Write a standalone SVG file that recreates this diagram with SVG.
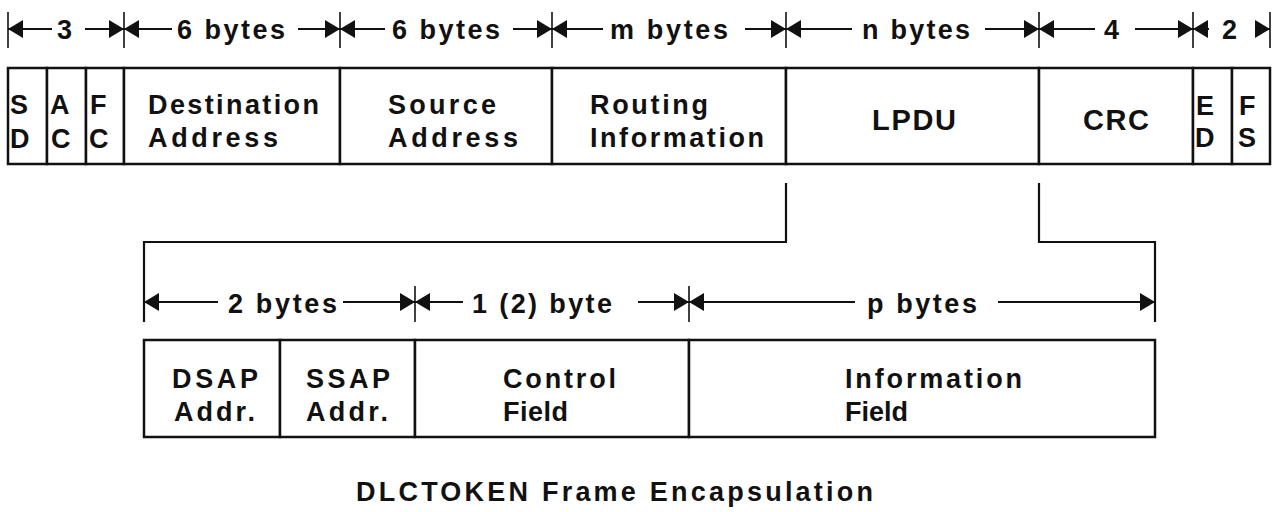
<svg xmlns="http://www.w3.org/2000/svg" width="1276" height="512" viewBox="0 0 1276 512">
<style>
.t{font-family:"Liberation Sans",Arial,Helvetica,sans-serif;font-weight:bold;font-size:27px;fill:#111}
.big{font-size:29px}
.cell{fill:#fff;stroke:#111;stroke-width:2.5}
.dim{stroke:#111;stroke-width:2;fill:none}
.tick{stroke:#111;stroke-width:1.6}
.conn{stroke:#111;stroke-width:2.2;fill:none}
</style>
<defs>
<marker id="ah" viewBox="0 0 15 18" refX="15" refY="9" markerWidth="15" markerHeight="18" markerUnits="userSpaceOnUse" orient="auto">
<path d="M0,0 L15,9 L0,18 Z" fill="#111"/>
</marker>
</defs>
<rect width="1276" height="512" fill="#fff"/>

<g id="top-dimensions">
<g class="tick">
<line x1="8" y1="12" x2="8" y2="48"/><line x1="124" y1="12" x2="124" y2="48"/><line x1="340" y1="12" x2="340" y2="48"/><line x1="552" y1="12" x2="552" y2="48"/><line x1="786" y1="12" x2="786" y2="48"/><line x1="1039" y1="12" x2="1039" y2="48"/><line x1="1193" y1="12" x2="1193" y2="48"/><line x1="1270" y1="12" x2="1270" y2="48"/>
</g>
<g class="dim" marker-end="url(#ah)">
<line x1="52" y1="29" x2="8" y2="29"/><line x1="85" y1="29" x2="124" y2="29"/>
<line x1="172" y1="29" x2="124" y2="29"/><line x1="298" y1="29" x2="340" y2="29"/>
<line x1="385" y1="29" x2="340" y2="29"/><line x1="513" y1="29" x2="552" y2="29"/>
<line x1="603" y1="29" x2="552" y2="29"/><line x1="745" y1="29" x2="786" y2="29"/>
<line x1="852" y1="29" x2="786" y2="29"/><line x1="985" y1="29" x2="1039" y2="29"/>
<line x1="1095" y1="29" x2="1039" y2="29"/><line x1="1135" y1="29" x2="1193" y2="29"/>
<line x1="1209" y1="29" x2="1193" y2="29"/><line x1="1255" y1="29" x2="1270" y2="29"/>
</g>
<text class="t" x="57" y="39">3</text>
<text class="t" x="177" y="39" textLength="108" lengthAdjust="spacing">6 bytes</text>
<text class="t" x="392" y="39" textLength="108" lengthAdjust="spacing">6 bytes</text>
<text class="t" x="610" y="39" textLength="118" lengthAdjust="spacing">m bytes</text>
<text class="t" x="862" y="39" textLength="108" lengthAdjust="spacing">n bytes</text>
<text class="t" x="1104" y="39">4</text>
<text class="t" x="1222" y="39">2</text>
</g>

<g id="sd"><rect class="cell" x="8" y="68" width="39" height="96"/><text class="t" x="10" y="114">S</text><text class="t" x="10" y="148">D</text></g>
<g id="ac"><rect class="cell" x="47" y="68" width="39" height="96"/><text class="t" x="50" y="114">A</text><text class="t" x="51" y="148">C</text></g>
<g id="fc"><rect class="cell" x="86" y="68" width="38" height="96"/><text class="t" x="90" y="114">F</text><text class="t" x="89" y="148">C</text></g>
<g id="dest"><rect class="cell" x="124" y="68" width="216" height="96"/><text class="t" x="148" y="114" textLength="171" lengthAdjust="spacing">Destination</text><text class="t" x="148" y="147" textLength="130" lengthAdjust="spacing">Address</text></g>
<g id="source"><rect class="cell" x="340" y="68" width="212" height="96"/><text class="t" x="388" y="114" textLength="108" lengthAdjust="spacing">Source</text><text class="t" x="388" y="147" textLength="130" lengthAdjust="spacing">Address</text></g>
<g id="routing"><rect class="cell" x="552" y="68" width="234" height="96"/><text class="t" x="590" y="114" textLength="118" lengthAdjust="spacing">Routing</text><text class="t" x="590" y="147" textLength="174" lengthAdjust="spacing">Information</text></g>
<g id="lpdu"><rect class="cell" x="786" y="68" width="253" height="96"/><text class="t big" x="872" y="130" textLength="84" lengthAdjust="spacing">LPDU</text></g>
<g id="crc"><rect class="cell" x="1039" y="68" width="154" height="96"/><text class="t big" x="1083" y="130" textLength="66" lengthAdjust="spacing">CRC</text></g>
<g id="ed"><rect class="cell" x="1193" y="68" width="39" height="96"/><text class="t" x="1196" y="115">E</text><text class="t" x="1195" y="147">D</text></g>
<g id="fs"><rect class="cell" x="1232" y="68" width="38" height="96"/><text class="t" x="1239" y="115">F</text><text class="t" x="1238" y="147">S</text></g>

<g id="connectors">
<path class="conn" d="M786,183 V242 H144 V322"/>
<path class="conn" d="M1039,183 V242 H1155 V322"/>
</g>

<g id="bottom-dimensions">
<g class="tick"><line x1="415" y1="286" x2="415" y2="322"/><line x1="689" y1="286" x2="689" y2="322"/></g>
<g class="dim" marker-end="url(#ah)">
<line x1="218" y1="302" x2="144" y2="302"/><line x1="343" y1="302" x2="415" y2="302"/>
<line x1="463" y1="302" x2="415" y2="302"/><line x1="638" y1="302" x2="689" y2="302"/>
<line x1="855" y1="302" x2="689" y2="302"/><line x1="998" y1="302" x2="1155" y2="302"/>
</g>
<text class="t" x="228" y="313" textLength="109" lengthAdjust="spacing">2 bytes</text>
<text class="t" x="472" y="313" textLength="140" lengthAdjust="spacing">1 (2) byte</text>
<text class="t" x="867" y="313" textLength="110" lengthAdjust="spacing">p bytes</text>
</g>

<g id="dsap"><rect class="cell" x="144" y="340" width="136" height="97"/><text class="t" x="172" y="388" textLength="86" lengthAdjust="spacing">DSAP</text><text class="t" x="174" y="421" textLength="81" lengthAdjust="spacing">Addr.</text></g>
<g id="ssap"><rect class="cell" x="280" y="340" width="135" height="97"/><text class="t" x="306" y="388" textLength="84" lengthAdjust="spacing">SSAP</text><text class="t" x="306" y="421" textLength="82" lengthAdjust="spacing">Addr.</text></g>
<g id="control"><rect class="cell" x="415" y="340" width="274" height="97"/><text class="t" x="503" y="388" textLength="113" lengthAdjust="spacing">Control</text><text class="t" x="503" y="421" textLength="65" lengthAdjust="spacing">Field</text></g>
<g id="information"><rect class="cell" x="689" y="340" width="466" height="97"/><text class="t" x="845" y="388" textLength="177" lengthAdjust="spacing">Information</text><text class="t" x="845" y="421" textLength="63" lengthAdjust="spacing">Field</text></g>

<g id="title"><text class="t" x="356" y="501" textLength="517" lengthAdjust="spacing">DLCTOKEN Frame Encapsulation</text></g>
</svg>
